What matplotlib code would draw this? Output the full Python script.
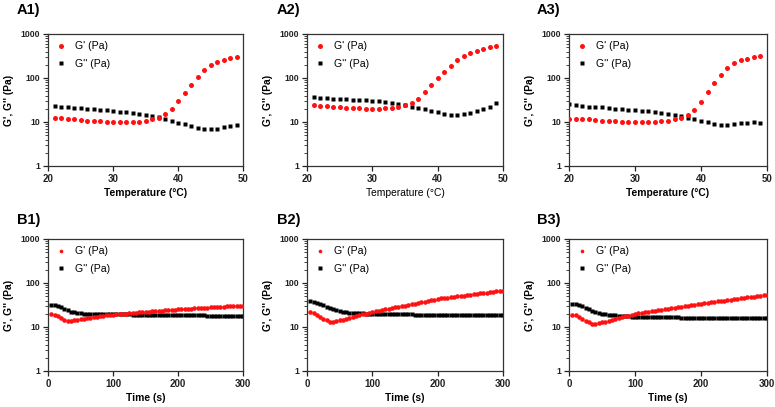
import matplotlib
matplotlib.use("Agg")
import matplotlib.pyplot as plt
from matplotlib.ticker import LogLocator, FixedLocator, NullFormatter

plt.rcParams['font.family'] = ['Liberation Sans', 'DejaVu Sans']

# ---------------- data: temperature sweeps ----------------
temp_a1 = list(range(21, 50))
gp_a1 = [12.5, 12.2, 12.0, 11.5, 11.0, 10.8, 10.5, 10.3, 10.0, 10.0, 10.0, 10.0, 10.0, 10.0,
         10.5, 11.5, 12.5, 15.0, 20.0, 30.0, 45.0, 70.0, 105.0, 150.0, 195.0, 230.0, 260.0, 280.0, 300.0]
gpp_a1 = [23.0, 22.5, 21.5, 21.0, 20.5, 20.0, 19.5, 19.0, 18.5, 18.0, 17.0, 16.5, 16.0, 15.0,
          14.5, 14.0, 13.0, 12.0, 10.5, 9.5, 8.8, 8.0, 7.2, 6.8, 7.0, 7.0, 7.8, 8.2, 8.7]

temp_a2 = list(range(21, 50))
gp_a2 = [24.0, 23.5, 23.0, 22.0, 21.5, 21.0, 21.0, 20.5, 20.0, 20.0, 20.0, 20.5, 21.0, 22.0,
         24.0, 27.0, 34.0, 47.0, 68.0, 98.0, 140.0, 190.0, 250.0, 310.0, 370.0, 420.0, 460.0, 500.0, 540.0]
gpp_a2 = [37.0, 36.0, 35.0, 34.0, 33.5, 33.0, 32.0, 31.5, 31.0, 30.0, 29.5, 28.0, 26.5, 25.5,
          24.0, 22.5, 21.0, 19.5, 18.0, 16.5, 15.5, 14.5, 14.5, 15.0, 16.0, 18.0, 20.0, 22.5, 27.0]

temp_a3 = list(range(20, 50))
gp_a3 = [12.0, 12.0, 11.5, 11.5, 11.0, 10.8, 10.5, 10.3, 10.0, 10.0, 10.0, 10.0, 10.0, 10.0,
         10.3, 10.8, 11.5, 12.5, 14.5, 19.0, 29.0, 47.0, 75.0, 120.0, 170.0, 220.0, 260.0, 275.0, 295.0, 320.0]
gpp_a3 = [25.0, 24.5, 23.5, 22.5, 22.0, 21.5, 21.0, 20.0, 19.5, 19.0, 18.5, 18.0, 17.5, 17.0,
          16.0, 15.0, 14.5, 13.5, 12.5, 11.5, 10.8, 10.0, 9.0, 8.5, 8.5, 8.8, 9.3, 9.7, 9.8, 9.7]

# ---------------- data: time sweeps (t = 5 ... 300 s) ----------------
time_b = list(range(5, 301, 5))
gp_b1 = [20.0, 19.0, 17.5, 16.0, 14.8, 14.0, 14.0, 14.3, 14.7, 15.1, 15.5, 16.0, 16.4, 16.8, 17.2,
         17.6, 18.0, 18.4, 18.7, 19.0, 19.3, 19.6, 19.9, 20.2, 20.5, 20.8, 21.1, 21.4, 21.7, 22.0,
         22.3, 22.6, 22.9, 23.2, 23.5, 23.8, 24.1, 24.4, 24.7, 25.0, 25.3, 25.6, 25.9, 26.2, 26.5,
         26.8, 27.1, 27.4, 27.7, 28.0, 28.25, 28.5, 28.75, 29.0, 29.25, 29.5, 29.75, 30.0, 30.25, 30.5]
gpp_b1 = [32.0, 31.5, 30.0, 28.0, 26.0, 24.0, 22.5, 21.5, 21.0, 20.5, 20.2, 20.0, 19.9, 19.8, 19.75,
          19.7, 19.65, 19.6, 19.55, 19.5, 19.45, 19.4, 19.35, 19.3, 19.25, 19.2, 19.15, 19.1, 19.05, 19.0,
          18.95, 18.9, 18.85, 18.8, 18.75, 18.7, 18.65, 18.6, 18.55, 18.5, 18.47, 18.44, 18.41, 18.38, 18.35,
          18.32, 18.29, 18.26, 18.23, 18.2, 18.18, 18.16, 18.14, 18.12, 18.1, 18.08, 18.06, 18.04, 18.02, 18.0]

gp_b2 = [21.5, 20.5, 19.0, 17.0, 15.5, 14.2, 13.3, 13.2, 13.6, 14.2, 14.8, 15.5, 16.2, 17.0, 17.8,
         18.6, 19.4, 20.2, 21.0, 21.8, 22.6, 23.4, 24.2, 25.0, 25.9, 26.8, 27.8, 28.8, 29.8, 30.8,
         31.9, 33.0, 34.2, 35.4, 36.6, 37.9, 39.2, 40.6, 42.0, 43.5, 44.5, 45.5, 46.5, 47.5, 48.6,
         49.7, 50.8, 51.9, 53.0, 54.2, 55.4, 56.6, 57.8, 59.0, 60.3, 61.6, 62.9, 64.2, 65.8, 67.5]
gpp_b2 = [38.0, 37.5, 36.0, 33.5, 31.0, 28.5, 26.5, 25.0, 24.0, 23.0, 22.3, 21.8, 21.3, 21.0, 20.7,
          20.5, 20.3, 20.1, 20.0, 19.8, 19.75, 19.7, 19.65, 19.6, 19.55, 19.5, 19.45, 19.4, 19.35, 19.3,
          19.27, 19.24, 19.21, 19.18, 19.15, 19.12, 19.09, 19.06, 19.03, 19.0, 18.98, 18.96, 18.94, 18.92, 18.9,
          18.88, 18.86, 18.84, 18.82, 18.8, 18.79, 18.78, 18.77, 18.76, 18.75, 18.74, 18.73, 18.72, 18.71, 18.7]

gp_b3 = [18.8, 18.3, 17.0, 15.5, 14.0, 12.8, 12.0, 11.9, 12.2, 12.7, 13.3, 13.9, 14.5, 15.2, 15.9,
         16.6, 17.4, 18.2, 19.0, 19.8, 20.3, 20.9, 21.5, 22.1, 22.7, 23.3, 23.9, 24.6, 25.3, 26.0,
         26.7, 27.4, 28.2, 28.9, 29.7, 30.5, 31.4, 32.2, 33.1, 34.0, 34.8, 35.6, 36.4, 37.3, 38.2,
         39.1, 40.0, 40.9, 41.9, 42.9, 43.9, 44.9, 45.9, 47.0, 48.1, 49.2, 50.4, 51.6, 52.8, 54.0]
gpp_b3 = [33.5, 33.0, 31.5, 29.5, 27.0, 25.0, 23.3, 22.0, 21.0, 20.2, 19.5, 19.0, 18.6, 18.3, 18.0,
          17.8, 17.6, 17.4, 17.3, 17.2, 17.14, 17.08, 17.02, 16.96, 16.9, 16.84, 16.78, 16.72, 16.66, 16.6,
          16.56, 16.52, 16.48, 16.44, 16.4, 16.36, 16.32, 16.28, 16.24, 16.2, 16.18, 16.16, 16.14, 16.12, 16.1,
          16.08, 16.06, 16.04, 16.02, 16.0, 15.98, 15.96, 15.94, 15.92, 15.9, 15.88, 15.86, 15.84, 15.82, 15.8]

panel_labels = ["A1)", "A2)", "A3)", "B1)", "B2)", "B3)"]
temp_ticks = [20, 30, 40, 50]
time_ticks = [0, 100, 200, 300]
y_ticks = [1, 10, 100, 1000]
y_ticklabels = ["1", "10", "100", "1000"]
legend_labels = ["G' (Pa)", "G'' (Pa)"]

# ---------------- layout ----------------
W, H = 775, 407
fig = plt.figure(figsize=(W / 100, H / 100), dpi=100)

cols = [(48, 243), (307, 503), (569, 767)]
rows = [(34, 166), (239, 371)]

def make_ax(col, row):
    (x0, x1), (y0, y1) = cols[col], rows[row]
    return fig.add_axes([x0 / W, 1 - y1 / H, (x1 - x0) / W, (y1 - y0) / H])

def style(ax, xlim, xticks, xlabel, xbold=True):
    ax.set_yscale('log')
    ax.set_ylim(1, 1000)
    ax.set_xlim(*xlim)
    ax.yaxis.set_major_locator(FixedLocator(y_ticks))
    ax.set_yticklabels(y_ticklabels, fontsize=6.2, fontweight='bold')
    ax.yaxis.set_minor_locator(LogLocator(base=10, subs=range(2, 10)))
    ax.yaxis.set_minor_formatter(NullFormatter())
    ax.set_xticks(xticks)
    ax.set_xticklabels([str(t) for t in xticks], fontsize=7, fontweight='bold')
    ax.tick_params(axis='both', which='major', direction='out', length=3.5, width=0.9, pad=2, colors='#222222')
    ax.tick_params(axis='y', which='minor', direction='out', length=2, width=0.6, colors='#222222')
    for s in ax.spines.values():
        s.set_linewidth(0.9)
        s.set_color('#333333')
    ax.set_xlabel(xlabel, fontsize=7.4, fontweight='bold' if xbold else 'normal', labelpad=3)
    ax.set_ylabel("G', G'' (Pa)", fontsize=7.4, fontweight='bold', labelpad=5)

temp_sets = [(temp_a1, gp_a1, gpp_a1, (20, 50), True),
             (temp_a2, gp_a2, gpp_a2, (20, 50), False),
             (temp_a3, gp_a3, gpp_a3, (20, 50), True)]
time_sets = [(gp_b1, gpp_b1), (gp_b2, gpp_b2), (gp_b3, gpp_b3)]

axes = []
for i, (t, gp, gpp, xl, xb) in enumerate(temp_sets):
    ax = make_ax(i, 0)
    ax.plot(t, gp, 'o', color='#ff1111', ms=3.6, mec='none', label=legend_labels[0], zorder=3)
    ax.plot(t, gpp, 's', color='black', ms=3.3, mec='none', label=legend_labels[1], zorder=2)
    style(ax, xl, temp_ticks, "Temperature (°C)", xb)
    axes.append((ax, 1.0))

for i, (gp, gpp) in enumerate(time_sets):
    ax = make_ax(i, 1)
    ax.plot(time_b, gpp, 's', color='black', ms=3.1, mec='none', label=legend_labels[1], zorder=2)
    ax.plot(time_b, gp, 'o', color='#ff1111', ms=3.3, mec='none', label=legend_labels[0], zorder=3)
    style(ax, (0, 300), time_ticks, "Time (s)", True)
    axes.append((ax, 0.8))

for ax, mscale in axes:
    h, l = ax.get_legend_handles_labels()
    order = [l.index(legend_labels[0]), l.index(legend_labels[1])]
    ax.legend([h[k] for k in order], [l[k] for k in order], loc='upper left', frameon=False,
              fontsize=7.6, handletextpad=0.9, handlelength=1.0, labelspacing=0.7,
              borderaxespad=0.3, bbox_to_anchor=(0.0, 1.0), markerscale=mscale)

label_pos = [(17, 10), (277, 10), (537, 10), (17, 220), (277, 220), (537, 220)]
for txt, (px, py) in zip(panel_labels, label_pos):
    fig.text(px / W, 1 - py / H, txt, fontsize=10.5, fontweight='bold', va='center', ha='left')

fig.savefig("out.png", dpi=100)
